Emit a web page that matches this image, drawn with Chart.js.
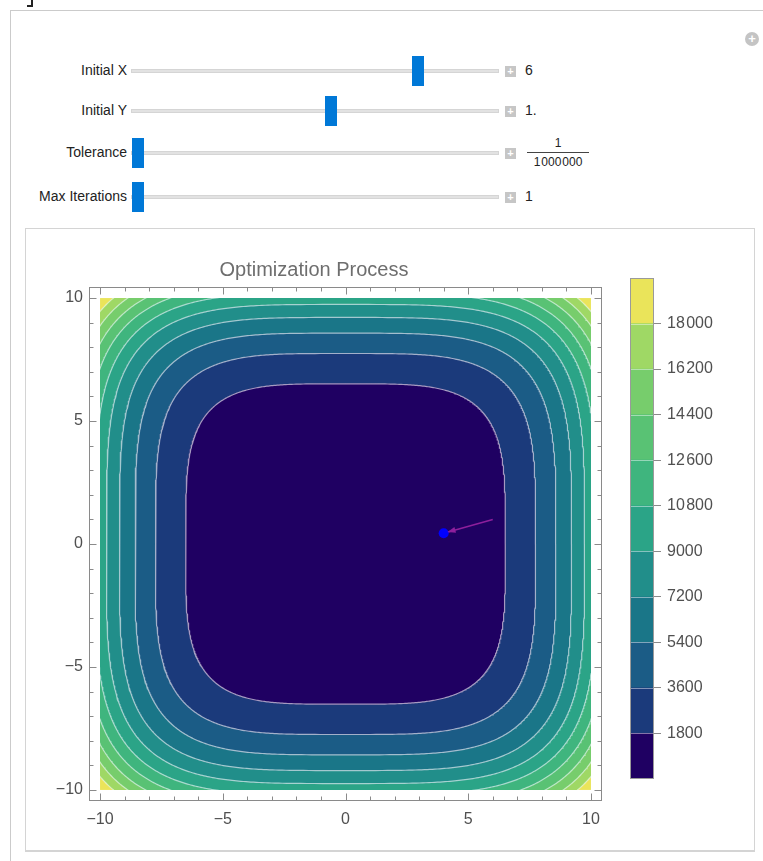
<!DOCTYPE html>
<html>
<head>
<meta charset="utf-8">
<script src="https://cdn.jsdelivr.net/npm/chart.js@4.4.1/dist/chart.umd.min.js"></script>
<style>
  body { margin:0; width:763px; height:861px; overflow:hidden; background:#fff; position:relative;
         font-family:"Liberation Sans", Arial, sans-serif; }
  .abs { position:absolute; }
  #panel { left:10px; top:10px; width:800px; height:900px; border:1px solid #cbcbcb; box-sizing:border-box; }
  #plotbox { left:25px; top:228px; width:730px; height:624px; border:1px solid #d4d4d4; border-bottom-width:2px; box-sizing:border-box; background:#fff; }
  .lbl { font-size:14px; color:#222; text-align:right; width:120px; left:7px; line-height:16px; }
  .track { left:131px; width:368px; height:4px; background:#e2e2e2; border:1px solid #d5d5d5; box-sizing:border-box; }
  .thumb { width:12px; height:30px; background:#0078d7; }
  .plus { left:505px; width:11px; height:11px; background:#c6c6c6; color:#fff; font-size:11px; line-height:11px; text-align:center; font-weight:bold; }
  .val { left:525px; font-size:14px; color:#222; line-height:16px; }
  .frac { left:527px; width:62px; font-size:12px; color:#222; text-align:center; line-height:14px; }
  .frac .bar { height:1px; background:#444; margin:2px 0 2px 0; }
  #gear { left:745px; top:32px; width:14px; height:14px; border-radius:50%; background:#c4c4c4; color:#fff; font-size:13px; line-height:14px; text-align:center; font-weight:bold; }
</style>
</head>
<body>
<div class="abs" style="left:31px;top:0;width:2px;height:6px;background:#222"></div>
<div class="abs" style="left:27px;top:5px;width:6px;height:2px;background:#222"></div>
<div id="panel" class="abs"></div>
<div id="gear" class="abs">+</div>
<div id="controls"></div>
<div id="plotbox" class="abs"></div>
<canvas id="contour" class="abs" style="left:26px;top:229px" width="590" height="602"></canvas>
<canvas id="legend" class="abs" style="left:620px;top:260px" width="130" height="540"></canvas>
<script>
// ---- data ----
const plotRange = [-10, 10];
const majorTicks = [-10, -5, 0, 5, 10];
const contourLevels = [1800, 3600, 5400, 7200, 9000, 10800, 12600, 14400, 16200, 18000];
const colorbarMax = 19800;
const bandColors = ["#1f0062", "#1b3a7b", "#1b5c86", "#1a7688", "#218e8a", "#2ba487",
                    "#3fb57e", "#59c274", "#77cd6c", "#9fd865", "#eae45a"];
const startPoint = [6, 1];
const endPoint = [4, 0.44];

// slider controls (value positions on their tracks)
const sliderLabels = ["Initial X", "Initial Y", "Tolerance", "Max Iterations"];
const sliderFracs = [0.8, 0.55, 0, 0];
const sliderRows = [71, 111, 153, 197];
const sliderValues = ["6", "1.", null, "1"];

const controls = document.getElementById("controls");
sliderLabels.forEach((name, i) => {
  const cy = sliderRows[i];
  const cx = 138 + sliderFracs[i] * 350;
  controls.insertAdjacentHTML("beforeend",
    `<div class="abs lbl" style="top:${cy - 9}px">${name}</div>` +
    `<div class="abs track" style="top:${cy - 2}px"></div>` +
    `<div class="abs thumb" style="left:${cx - 6}px;top:${cy - 15}px"></div>` +
    `<div class="abs plus" style="top:${cy - 5}px">+</div>`);
  if (sliderValues[i] !== null) {
    controls.insertAdjacentHTML("beforeend", `<div class="abs val" style="top:${cy - 9}px">${sliderValues[i]}</div>`);
  } else {
    controls.insertAdjacentHTML("beforeend",
      `<div class="abs frac" style="top:${cy - 17}px"><div>1</div><div class="bar"></div><div>1\u200a000\u200a000</div></div>`);
  }
});

function fmt(v) {
  let s = String(Math.abs(v));
  if (s.length > 4) s = s.replace(/(\d)(?=(\d{3})+$)/g, "$1\u200a");
  return v < 0 ? "\u2212" + s : s;
}

// level curve of f(x,y) = x^4 + y^4 for a given contour value
function levelCurve(level) {
  const r = Math.pow(level, 0.25), pts = [];
  const n = 720;
  for (let i = 0; i <= n; i++) {
    const t = 2 * Math.PI * i / n, c = Math.cos(t), s = Math.sin(t);
    pts.push({ x: r * Math.sign(c) * Math.sqrt(Math.abs(c)), y: r * Math.sign(s) * Math.sqrt(Math.abs(s)) });
  }
  return pts;
}

const datasets = [];
datasets.push({ data: [{ x: endPoint[0], y: endPoint[1] }], showLine: false,
  pointRadius: 5, pointBackgroundColor: "#0000ff", pointBorderWidth: 0, order: 0 });
datasets.push({ data: [{ x: startPoint[0], y: startPoint[1] }, { x: endPoint[0], y: endPoint[1] }],
  borderColor: "#8e1f9c", borderWidth: 1.5, pointRadius: 0, order: 1 });
contourLevels.forEach((L, i) => {
  datasets.push({ data: levelCurve(L), borderColor: "rgba(255,255,255,0.6)", borderWidth: 1.2,
    pointRadius: 0, fill: false, order: 2 });
  datasets.push({ data: levelCurve(L), borderColor: bandColors[i], borderWidth: 1,
    backgroundColor: bandColors[i], pointRadius: 0, fill: "shape", order: 10 + i });
});

const tickFont = { family: "Liberation Sans", size: 16 };
const framePlugin = {
  id: "frame",
  beforeDatasetsDraw(chart) {
    const { ctx, scales: { x, y } } = chart;
    const l = x.getPixelForValue(plotRange[0]), r = x.getPixelForValue(plotRange[1]);
    const t = y.getPixelForValue(plotRange[1]), b = y.getPixelForValue(plotRange[0]);
    ctx.save();
    ctx.beginPath(); ctx.rect(l, t, r - l, b - t); ctx.clip();
    ctx.fillStyle = bandColors[bandColors.length - 1];
    ctx.fillRect(l, t, r - l, b - t);
  },
  afterDatasetsDraw(chart) {
    const { ctx, chartArea: a, scales: { x, y } } = chart;
    ctx.restore();
    // arrow head at the end point
    const x0 = x.getPixelForValue(startPoint[0]), y0 = y.getPixelForValue(startPoint[1]);
    const x1 = x.getPixelForValue(endPoint[0]), y1 = y.getPixelForValue(endPoint[1]);
    const ang = Math.atan2(y1 - y0, x1 - x0);
    const tx = x1 - Math.cos(ang) * 4, ty = y1 - Math.sin(ang) * 4;
    ctx.save();
    ctx.fillStyle = "#8e1f9c";
    ctx.beginPath();
    ctx.moveTo(tx, ty);
    ctx.lineTo(tx - Math.cos(ang) * 8 - Math.sin(ang) * 3, ty - Math.sin(ang) * 8 + Math.cos(ang) * 3);
    ctx.lineTo(tx - Math.cos(ang) * 8 + Math.sin(ang) * 3, ty - Math.sin(ang) * 8 - Math.cos(ang) * 3);
    ctx.closePath(); ctx.fill();
    // frame with inward ticks
    ctx.strokeStyle = "#8a8a8a"; ctx.lineWidth = 1;
    const L = Math.round(a.left) + 0.5, R = Math.round(a.right) - 0.5;
    const T = Math.round(a.top) + 0.5, B = Math.round(a.bottom) - 0.5;
    ctx.strokeRect(L, T, R - L, B - T);
    ctx.beginPath();
    for (let v = plotRange[0]; v <= plotRange[1]; v++) {
      const len = majorTicks.includes(v) ? 7 : 4;
      const px = Math.round(x.getPixelForValue(v)) + 0.5;
      const py = Math.round(y.getPixelForValue(v)) + 0.5;
      ctx.moveTo(px, B); ctx.lineTo(px, B - len);
      ctx.moveTo(px, T); ctx.lineTo(px, T + len);
      ctx.moveTo(L, py); ctx.lineTo(L + len, py);
      ctx.moveTo(R, py); ctx.lineTo(R - len, py);
    }
    ctx.stroke();
    ctx.restore();
  }
};

new Chart(document.getElementById("contour"), {
  type: "line",
  data: { datasets },
  options: {
    responsive: false, animation: false, events: [],
    layout: { padding: { left: 0, right: 14, top: 0, bottom: 0 } },
    plugins: {
      legend: { display: false }, tooltip: { enabled: false },
      title: { display: true, text: "Optimization Process", color: "#6e6e6e",
        font: { family: "Liberation Sans", size: 20, weight: "normal" }, padding: { top: 29, bottom: 5 } }
    },
    elements: { line: { tension: 0 } },
    scales: {
      x: { type: "linear", min: -10.45, max: 10.45,
        afterBuildTicks: s => { s.ticks = majorTicks.map(v => ({ value: v })); },
        afterFit: s => { s.height = 30; },
        grid: { display: false, drawTicks: false }, border: { display: false },
        ticks: { color: "#505050", font: tickFont, padding: 9, autoSkip: false, maxRotation: 0, callback: v => fmt(v) } },
      y: { type: "linear", min: -10.45, max: 10.45,
        afterBuildTicks: s => { s.ticks = majorTicks.map(v => ({ value: v })); },
        afterFit: s => { s.width = 63; },
        grid: { display: false, drawTicks: false }, border: { display: false },
        ticks: { color: "#505050", font: tickFont, padding: 6, autoSkip: false, callback: v => fmt(v) } }
    }
  },
  plugins: [framePlugin]
});

// ---- colour bar ----
const bounds = [0, ...contourLevels, colorbarMax];
const barPlugin = {
  id: "barframe",
  afterDatasetsDraw(chart) {
    const { ctx, chartArea: a, scales: { y } } = chart;
    ctx.save();
    ctx.strokeStyle = "rgba(255,255,255,0.45)"; ctx.lineWidth = 1;
    ctx.beginPath();
    contourLevels.forEach(v => {
      const py = Math.round(y.getPixelForValue(v)) + 0.5;
      ctx.moveTo(a.left, py); ctx.lineTo(a.right, py);
    });
    ctx.stroke();
    ctx.strokeStyle = "#9a9a9a";
    ctx.strokeRect(Math.round(a.left) + 0.5, Math.round(a.top) + 0.5, Math.round(a.right - a.left) - 1, Math.round(a.bottom - a.top) - 1);
    ctx.restore();
  }
};
new Chart(document.getElementById("legend"), {
  type: "bar",
  data: {
    labels: [""],
    datasets: bandColors.map((c, i) => ({ data: [[bounds[i], bounds[i + 1]]], backgroundColor: c,
      borderWidth: 0, categoryPercentage: 1, barPercentage: 1, grouped: false }))
  },
  options: {
    responsive: false, animation: false, events: [],
    layout: { padding: { left: 10, top: 18, bottom: 21, right: 0 } },
    plugins: { legend: { display: false }, tooltip: { enabled: false } },
    scales: {
      x: { display: false },
      y: { position: "right", min: 0, max: colorbarMax,
        afterBuildTicks: s => { s.ticks = contourLevels.map(v => ({ value: v })); },
        afterFit: s => { s.width = 96; },
        grid: { drawOnChartArea: false, drawTicks: true, tickLength: 7, color: "#8a8a8a" },
        border: { display: false },
        ticks: { color: "#505050", font: tickFont, padding: 6, autoSkip: false, callback: v => fmt(v) } }
    }
  },
  plugins: [barPlugin]
});
</script>
</body>
</html>
